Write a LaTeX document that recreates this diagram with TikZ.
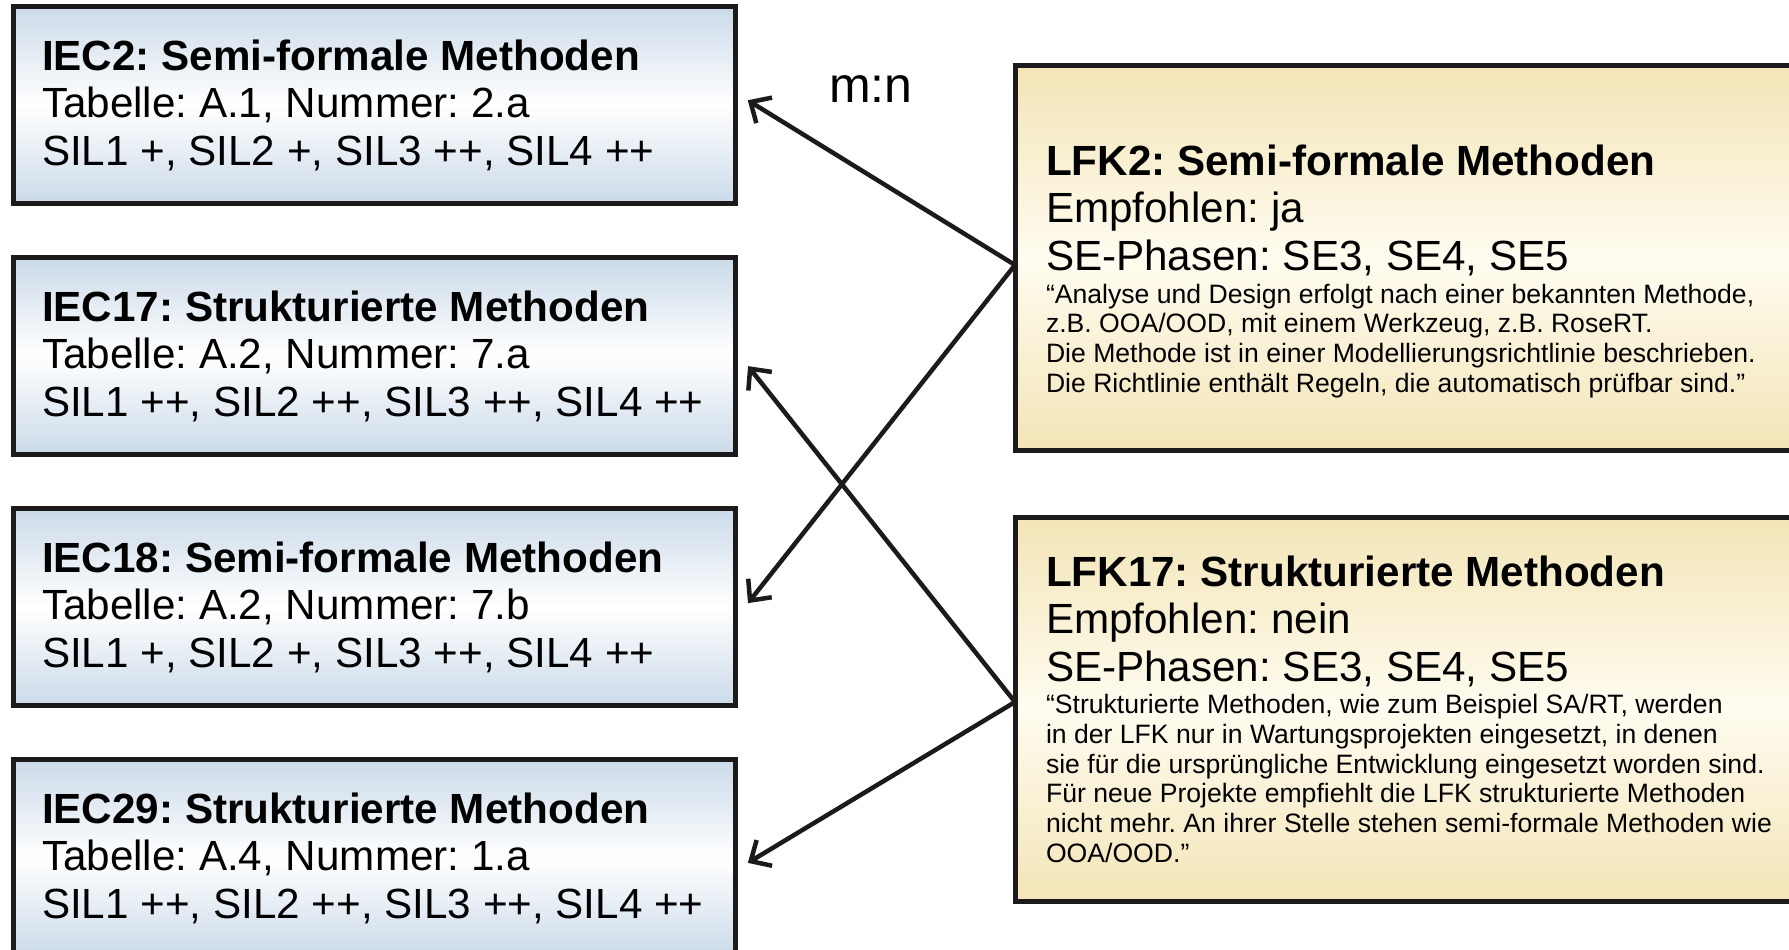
\documentclass[tikz,border=0pt]{standalone}
\usepackage{fontspec}
\setmainfont{Liberation Sans}
\usetikzlibrary{positioning,arrows.meta}
\definecolor{iecblue}{RGB}{203,218,233}
\definecolor{lfkgold}{RGB}{243,229,183}
\definecolor{lfkcream}{RGB}{255,252,240}
\definecolor{boxline}{RGB}{28,26,26}
\def\dy{54pt}
\newcommand{\bigfont}{\frenchspacing\fontsize{42.2}{47.5}\selectfont}
\newcommand{\smallfont}{\fontsize{26.6}{29.7}\selectfont}
\tikzstyle{iec}=[draw=boxline,line width=5pt,outer sep=0pt,top color=iecblue,bottom color=iecblue,middle color=white,minimum height=197pt,text width=664pt,inner xsep=29pt,align=flush left,font=\bigfont]
\tikzstyle{lfk}=[draw=boxline,line width=5pt,outer sep=0pt,top color=lfkgold,bottom color=lfkgold,middle color=lfkcream,minimum height=384pt,text width=740pt,inner xsep=31pt,align=flush left,font=\bigfont]
\tikzstyle{link}=[draw=boxline,line width=4.5pt,-{Straight Barb[length=16pt,width=30pt]}]
\newcommand{\newIec}[5]{\node[iec,#5](#1){\textbf{#2}\\#3\\#4};}
\newcommand{\newLfk}[6]{\node[lfk,#6](#1){\textbf{#2}\\#3\\#4\par\smallfont\vspace{3pt}#5\par};}
\newcommand{\newLink}[3]{\draw[link,#3] (#1) -- (#2);}

\begin{document}
\begin{tikzpicture}[x=1pt,y=-1pt,node distance=\dy]
        \useasboundingbox (0,0) rectangle (1789,950);
        \clip (0,0) rectangle (1789,950);
        % IEC side
        \newIec{iec2}{IEC2: Semi-formale Methoden}{Tabelle: A.1, Nummer: 2.a}{SIL1 +, SIL2 +, SIL3 ++, SIL4 ++}{at={(374,105)}}
        \newIec{iec17}{IEC17: Strukturierte Methoden}{Tabelle: A.2, Nummer: 7.a}{SIL1 ++, SIL2 ++, SIL3 ++, SIL4 ++}{below=of iec2}
        \newIec{iec18}{IEC18: Semi-formale Methoden}{Tabelle: A.2, Nummer: 7.b}{SIL1 +, SIL2 +, SIL3 ++, SIL4 ++}{below=of iec17}
        \newIec{iec29}{IEC29: Strukturierte Methoden}{Tabelle: A.4, Nummer: 1.a}{SIL1 ++, SIL2 ++, SIL3 ++, SIL4 ++}{below=of iec18}
        % LFK side
        \newLfk{lfk2}{LFK2: Semi-formale Methoden}{Empfohlen: ja}{SE-Phasen: SE3, SE4, SE5}{“Analyse und Design erfolgt nach einer bekannten Methode,\\z.B. OOA/OOD, mit einem Werkzeug, z.B. RoseRT.\\Die Methode ist in einer Modellierungsrichtlinie beschrieben.\\Die Richtlinie enthält Regeln, die automatisch prüfbar sind.”}{at={(1416,258)},execute at begin node={\rule{0pt}{57pt}}}
        \newLfk{lfk17}{LFK17: Strukturierte Methoden}{Empfohlen: nein}{SE-Phasen: SE3, SE4, SE5}{“Strukturierte Methoden, wie zum Beispiel SA/RT, werden\\in der LFK nur in Wartungsprojekten eingesetzt, in denen\\sie für die ursprüngliche Entwicklung eingesetzt worden sind.\\Für neue Projekte empfiehlt die LFK strukturierte Methoden\\nicht mehr. An ihrer Stelle stehen semi-formale Methoden wie\\OOA/OOD.”}{below=67pt of lfk2}
        \node[font=\fontsize{50}{50}\selectfont] (mn) at (871,89) {m:n};
        \newLink{lfk2.181.2}{iec2.2.4}{shorten >=15pt}
        \newLink{lfk2.181.2}{iec18.358.1}{shorten >=21pt}
        \newLink{lfk17.179.3}{iec17.1.6}{shorten >=21pt}
        \newLink{lfk17.179.3}{iec29.358.2}{shorten >=15pt}
\end{tikzpicture}
\end{document}
